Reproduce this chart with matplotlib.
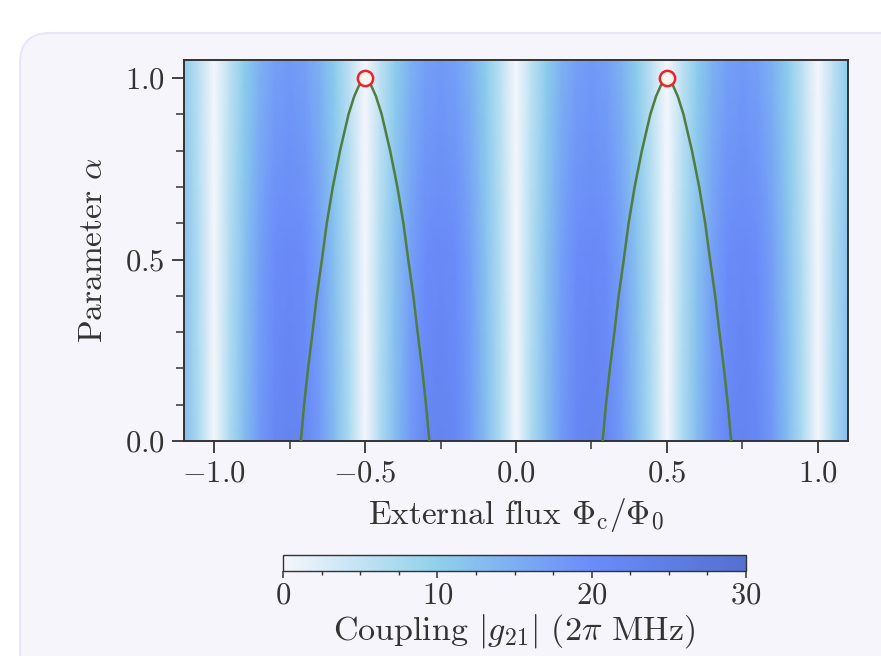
import numpy as np
import matplotlib
matplotlib.use('Agg')
import matplotlib.pyplot as plt
from matplotlib.colors import LinearSegmentedColormap
from matplotlib.patches import FancyBboxPatch
from matplotlib.ticker import MultipleLocator

plt.rcParams['font.family'] = 'serif'
plt.rcParams['font.serif'] = ['cmr10']
plt.rcParams['mathtext.fontset'] = 'cm'
plt.rcParams['axes.formatter.use_mathtext'] = True

# Coupling map |g21| (flux grid every 0.05, three alpha rows)
flux_grid = np.round(np.arange(-1.1, 1.1001, 0.05), 2)
alpha_rows = [0.0, 0.5, 1.05]
period_a0 = [7, 13, 18, 21.5, 22.5, 21.5, 18, 13, 7, 0]
period_a05 = [6.5, 12, 17, 20, 21, 20, 17, 12, 6.5, 0]
period_a1 = [5.5, 10.5, 14.5, 17, 18, 17, 14.5, 10.5, 5.5, 0]
g_a0 = [13, 7, 0] + period_a0 * 4 + [7, 13]
g_a05 = [12, 6.5, 0] + period_a05 * 4 + [6.5, 12]
g_a1 = [10.5, 5.5, 0] + period_a1 * 4 + [5.5, 10.5]

# Arch (green line): half width in flux around the sweet spots vs alpha
arch_alpha = [0.0, 0.1, 0.2, 0.3, 0.4, 0.5, 0.6, 0.7, 0.8, 0.9, 0.95, 0.98, 1.0]
arch_halfwidth = [0.213, 0.202, 0.189, 0.174, 0.160, 0.143, 0.127, 0.107, 0.083, 0.055, 0.036, 0.02, 0.0]
arch_centers = [-0.5, 0.5]
peak_alpha = [1.0, 1.0]

cmap = LinearSegmentedColormap.from_list(
    'coupling', ['#f5f6fc', '#8fd0eb', '#6a8cfa', '#5470d0'])

fig = plt.figure(figsize=(8.81, 6.56), dpi=100)
fig.patch.set_facecolor('white')
card = FancyBboxPatch((0.2, -1.0), 9.5, 7.23,
                      boxstyle='round,pad=0,rounding_size=0.3',
                      transform=fig.dpi_scale_trans,
                      fc='#f6f5fb', ec='#e8e6fa', lw=1.5, zorder=-10)
fig.patches.append(card)

ax = fig.add_axes([184 / 881, 1 - 441 / 656, 664 / 881, 381 / 656])
cax = fig.add_axes([283 / 881, 1 - 571 / 656, 463 / 881, 16 / 656])
ax.set_facecolor('none')
cax.set_facecolor('none')

G = np.array([g_a0, g_a05, g_a1])
mesh = ax.pcolormesh(flux_grid, alpha_rows, G, shading='gouraud',
                     cmap=cmap, vmin=0, vmax=30)

hw = np.array(arch_halfwidth)
al = np.array(arch_alpha)
for c in arch_centers:
    xs = np.concatenate([c - hw, (c + hw)[::-1]])
    ys = np.concatenate([al, al[::-1]])
    ax.plot(xs, ys, color='#4e7d3e', lw=1.8, zorder=3)
ax.plot(arch_centers, peak_alpha, 'o', ms=11, mfc='#f7f6ee', mec='#f0202a',
        mew=1.8, zorder=4, clip_on=False)

ax.set_xlim(-1.1, 1.1)
ax.set_ylim(0, 1.05)
ax.xaxis.set_major_locator(MultipleLocator(0.5))
ax.xaxis.set_minor_locator(MultipleLocator(0.25))
ax.yaxis.set_major_locator(MultipleLocator(0.5))
ax.yaxis.set_minor_locator(MultipleLocator(0.1))
ax.tick_params(which='major', length=8.8, width=1.3, direction='out',
               labelsize=22, pad=5, color='#333333', labelcolor='#333333')
ax.tick_params(which='minor', length=5.8, width=1.1, direction='out',
               color='#333333')
for s in ax.spines.values():
    s.set_linewidth(1.4)
    s.set_color('#333333')
ax.set_xlabel(r'External flux $\Phi_\mathrm{c}/\Phi_0$', fontsize=24,
              color='#333333', labelpad=6)
ax.set_ylabel(r'Parameter $\alpha$', fontsize=24, color='#333333',
              labelpad=12)

cb = fig.colorbar(mesh, cax=cax, orientation='horizontal')
cb.set_ticks([0, 10, 20, 30])
cb.ax.xaxis.set_minor_locator(MultipleLocator(2.5))
cb.ax.tick_params(which='major', length=5, width=1.1, labelsize=22, pad=3,
                  color='#333333', labelcolor='#333333')
cb.ax.tick_params(which='minor', length=3, width=1.0, color='#333333')
cb.outline.set_linewidth(1.0)
cb.outline.set_edgecolor('#333333')
cb.set_label(r'Coupling $|g_{21}|$ (2$\pi$ MHz)', fontsize=24.5,
             color='#333333', labelpad=2)

fig.savefig('out.png', dpi=100)
